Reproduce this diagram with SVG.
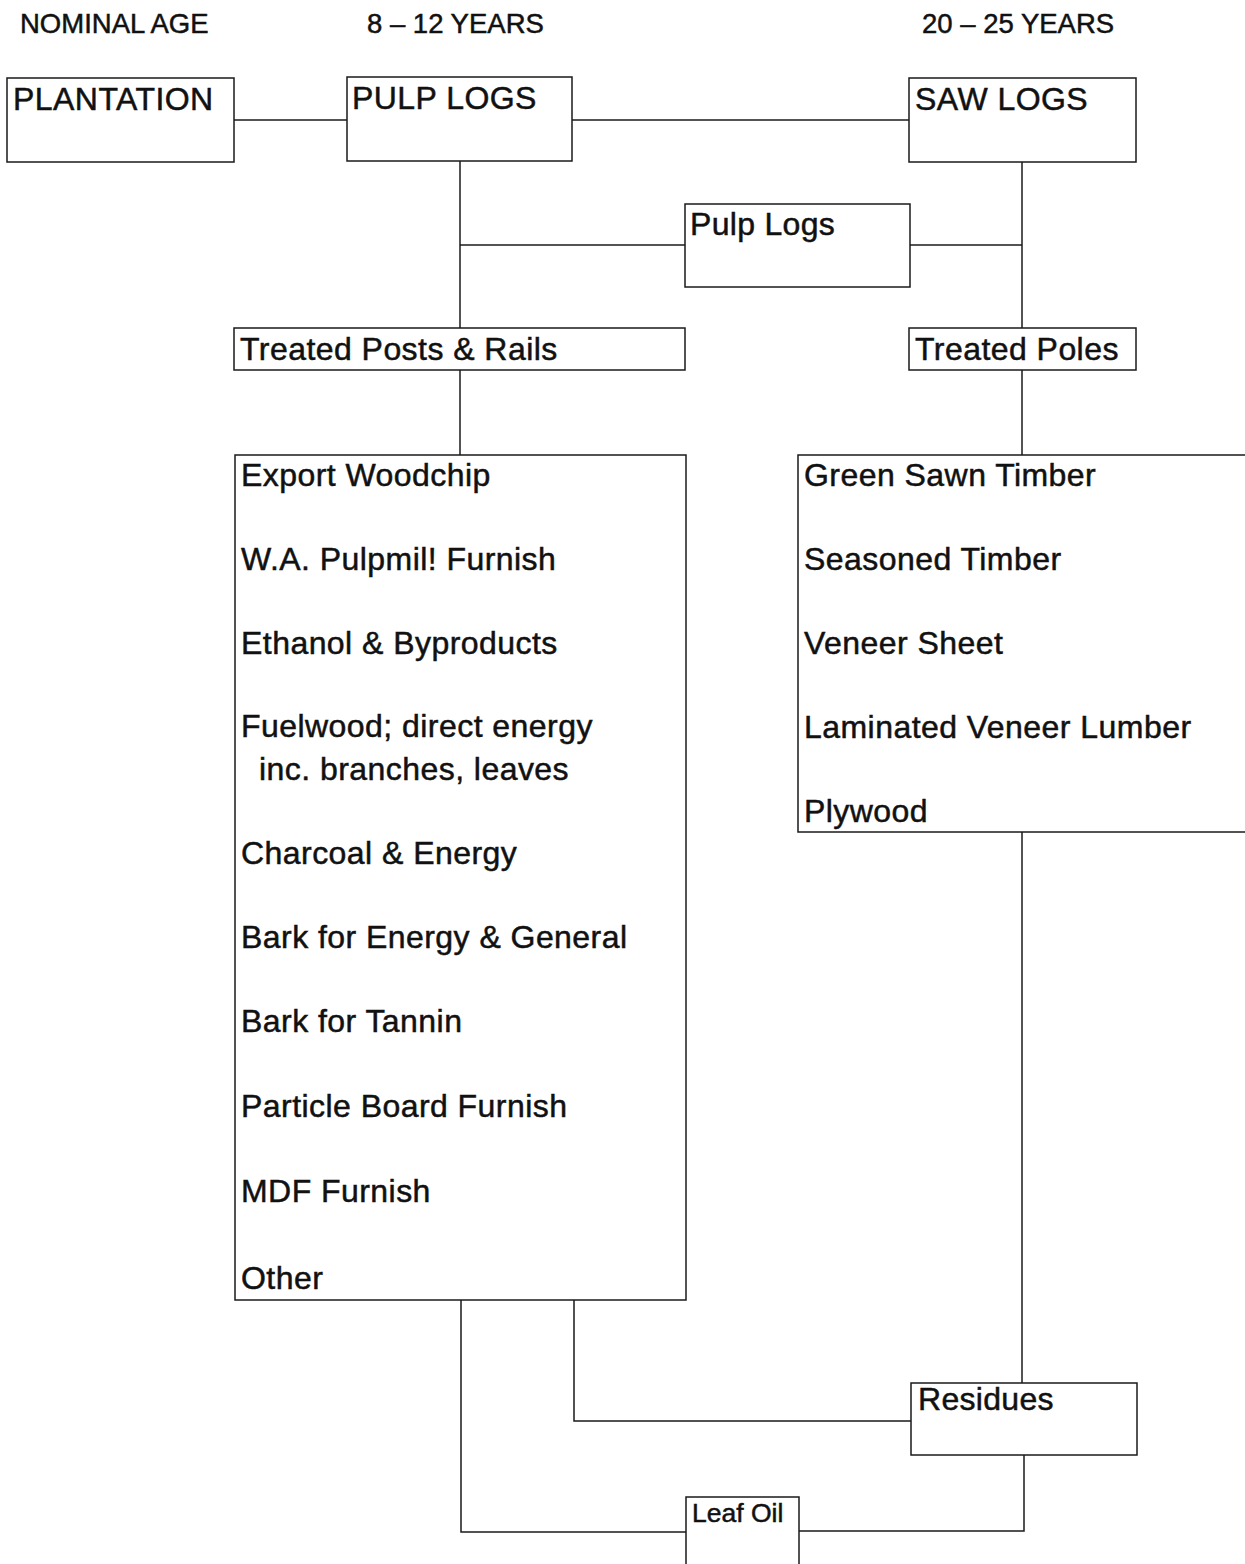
<svg xmlns="http://www.w3.org/2000/svg" width="1245" height="1564" viewBox="0 0 1245 1564">
<style>
.box{fill:#fff;stroke:#1a1a1a;stroke-width:1.5}
.ln{fill:none;stroke:#1a1a1a;stroke-width:1.5}
text{font-family:"Liberation Sans",Arial,sans-serif;fill:#111;stroke:#111;stroke-width:0.5}
.hd{font-size:27.5px}
.t{font-size:32px;letter-spacing:0.45px}
.s{font-size:32px;letter-spacing:0.3px}
</style>
<rect width="1245" height="1564" fill="#fff"/>
<g id="headers">
<text class="hd" x="20" y="33">NOMINAL AGE</text>
<text class="hd" x="367" y="33">8 – 12 YEARS</text>
<text class="hd" x="922" y="33">20 – 25 YEARS</text>
</g>
<g id="connectors">
<line class="ln" x1="234" y1="120" x2="347" y2="120"/>
<line class="ln" x1="572" y1="120" x2="909" y2="120"/>
<line class="ln" x1="460" y1="161" x2="460" y2="328"/>
<line class="ln" x1="460" y1="245" x2="685" y2="245"/>
<line class="ln" x1="910" y1="245" x2="1022" y2="245"/>
<line class="ln" x1="1022" y1="162" x2="1022" y2="328"/>
<line class="ln" x1="460" y1="370" x2="460" y2="455"/>
<line class="ln" x1="1022" y1="370" x2="1022" y2="455"/>
<line class="ln" x1="1022" y1="832" x2="1022" y2="1383"/>
<polyline class="ln" points="574,1300 574,1421 911,1421"/>
<polyline class="ln" points="461,1300 461,1532 686,1532"/>
<polyline class="ln" points="799,1531 1024,1531 1024,1455"/>
</g>
<g id="plantation">
<rect class="box" x="7" y="78" width="227" height="84"/>
<text class="t" x="13" y="110">PLANTATION</text>
</g>
<g id="pulp-logs-main">
<rect class="box" x="347" y="77" width="225" height="84"/>
<text class="t" x="352" y="109">PULP LOGS</text>
</g>
<g id="saw-logs">
<rect class="box" x="909" y="78" width="227" height="84"/>
<text class="t" x="915" y="110">SAW LOGS</text>
</g>
<g id="pulp-logs">
<rect class="box" x="685" y="204" width="225" height="83"/>
<text class="s" x="690" y="235">Pulp Logs</text>
</g>
<g id="treated-posts">
<rect class="box" x="234" y="328" width="451" height="42"/>
<text class="t" x="240" y="360">Treated Posts &amp; Rails</text>
</g>
<g id="treated-poles">
<rect class="box" x="909" y="328" width="227" height="42"/>
<text class="t" x="915" y="360">Treated Poles</text>
</g>
<g id="pulp-products">
<rect class="box" x="235" y="455" width="451" height="845"/>
<text class="t" x="241" y="486">Export Woodchip</text>
<text class="t" x="241" y="570">W.A. Pulpmil! Furnish</text>
<text class="t" x="241" y="654">Ethanol &amp; Byproducts</text>
<text class="t" x="241" y="737">Fuelwood; direct energy</text>
<text class="t" x="259" y="780">inc. branches, leaves</text>
<text class="t" x="241" y="864">Charcoal &amp; Energy</text>
<text class="t" x="241" y="948">Bark for Energy &amp; General</text>
<text class="t" x="241" y="1032">Bark for Tannin</text>
<text class="t" x="241" y="1117">Particle Board Furnish</text>
<text class="t" x="241" y="1202">MDF Furnish</text>
<text class="t" x="241" y="1289">Other</text>
</g>
<g id="saw-products">
<rect class="box" x="798" y="455" width="460" height="377"/>
<text class="t" x="804" y="486">Green Sawn Timber</text>
<text class="t" x="804" y="570">Seasoned Timber</text>
<text class="t" x="804" y="654">Veneer Sheet</text>
<text class="t" x="804" y="738">Laminated Veneer Lumber</text>
<text class="t" x="804" y="822">Plywood</text>
</g>
<g id="residues">
<rect class="box" x="911" y="1383" width="226" height="72"/>
<text class="s" x="918" y="1410">Residues</text>
</g>
<g id="leaf-oil">
<rect class="box" x="686" y="1497" width="113" height="80"/>
<text x="692" y="1522" style="font-size:26.5px">Leaf Oil</text>
</g>
</svg>
